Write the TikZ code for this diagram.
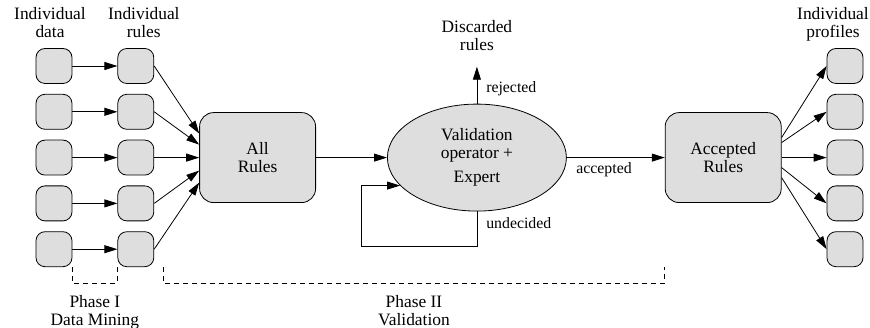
\documentclass[tikz,border=0pt]{standalone}
\usepackage{fontspec}
\setmainfont{Liberation Serif}
\usetikzlibrary{shapes.geometric, arrows.meta, positioning, calc}
\definecolor{boxgray}{RGB}{222,222,222}
\tikzset{
    cell/.style = {rectangle, rounded corners=9pt, draw=black, fill=boxgray, line width=0.8pt, minimum width=36pt, minimum height=35pt, inner sep=0pt},
    bigbox/.style = {cell, rounded corners=14pt, minimum width=116pt, minimum height=90pt, align=center},
    oval/.style = {ellipse, draw=black, fill=boxgray, line width=0.8pt, minimum width=179pt, minimum height=107pt, inner sep=0pt, align=center},
    head/.style = {align=center, inner sep=2pt},
    tag/.style = {font=\fontsize{15.8}{17}\selectfont, inner sep=2pt},
    arrow/.style = {line width=0.8pt, -{Triangle[length=13pt, width=8pt]}},
    bracket/.style = {line width=0.8pt, dash pattern=on 5pt off 4pt}
}

\begin{document}
\begin{tikzpicture}[font=\fontsize{17.4}{18}\selectfont]
        \useasboundingbox (-54pt,66pt) rectangle (816pt,-262pt);

        % Column 1: Individual data
        \node (d1) [cell] {};
        \node (d2) [cell, below=10pt of d1] {};
        \node (d3) [cell, below=10pt of d2] {};
        \node (d4) [cell, below=10pt of d3] {};
        \node (d5) [cell, below=10pt of d4] {};

        % Column 2: Individual rules
        \node (r1) [cell, right=45pt of d1] {};
        \node (r2) [cell, right=45pt of d2] {};
        \node (r3) [cell, right=45pt of d3] {};
        \node (r4) [cell, right=45pt of d4] {};
        \node (r5) [cell, right=45pt of d5] {};

        % Rule base and validation
        \node (all) [bigbox, right=45pt of r3] {All\\Rules};
        \node (valid) [oval, right=71pt of all] {Validation\\operator +\\[6pt]Expert};
        \node (acc) [bigbox, right=98pt of valid] {Accepted\\Rules};

        % Column 3: Individual profiles
        \node (p3) [cell, right=45pt of acc] {};
        \node (p2) [cell, above=10pt of p3] {};
        \node (p1) [cell, above=10pt of p2] {};
        \node (p4) [cell, below=10pt of p3] {};
        \node (p5) [cell, below=10pt of p4] {};

        % Column titles
        \node (hdata) [head, above=8pt of d1, xshift=-4pt] {Individual\\data};
        \node (hrules) [head, above=8pt of r1, xshift=8pt] {Individual\\rules};
        \node (hprof) [head, above=5pt of p1, xshift=-12pt] {Individual\\profiles};

        % Discarded rules
        \coordinate (rejtip) at ([yshift=37pt]valid.north);
        \node (disc) [head, above=14pt of rejtip] {Discarded\\rules};

        % DATA MINING ARROWS
        \draw [arrow] (d1) -- (r1);
        \draw [arrow] (d2) -- (r2);
        \draw [arrow] (d3) -- (r3);
        \draw [arrow] (d4) -- (r4);
        \draw [arrow] (d5) -- (r5);

        \draw [arrow] (r1.east) -- ([yshift=24pt]all.west);
        \draw [arrow] (r2.east) -- ([yshift=13pt]all.west);
        \draw [arrow] (r3.east) -- (all.west);
        \draw [arrow] (r4.east) -- ([yshift=-13pt]all.west);
        \draw [arrow] (r5.east) -- ([yshift=-25pt]all.west);

        % VALIDATION ARROWS
        \draw [arrow] (all) -- (valid);
        \draw [arrow] (valid) -- (acc) node (acclab) [tag, pos=0.38, below, yshift=-3pt] {accepted};
        \draw [arrow] (valid.north) -- (rejtip) node (rejlab) [tag, pos=0.4, right, xshift=7pt] {rejected};
        \draw [arrow] (valid.south) -- ++(0,-35pt) node (undlab) [tag, pos=0.34, right, xshift=7pt] {undecided}
            -| ([xshift=-39pt]valid.200) -- (valid.200);

        % PROFILE ARROWS
        \draw [arrow] ([yshift=20pt]acc.east) -- (p1.west);
        \draw [arrow] ([yshift=15pt]acc.east) -- (p2.west);
        \draw [arrow] (acc.east) -- (p3.west);
        \draw [arrow] ([yshift=-10pt]acc.east) -- (p4.west);
        \draw [arrow] ([yshift=-20pt]acc.east) -- (p5.west);

        % PHASE BRACKETS (Dashed)
        \coordinate (b2l) at ([xshift=9pt]r5.south east);
        \coordinate (b2r) at (acc.west |- r5.south);
        \draw [bracket] (d5.south east) -- ++(0,-16pt) -| (r5.south west);
        \draw [bracket] (b2l) -- ++(0,-16pt) -| (b2r);
        \coordinate (ph1) at ($(d5.south east)!0.5!(r5.south west) + (0,-16pt)$);
        \coordinate (ph2) at ($(b2l)!0.5!(b2r) + (0,-16pt)$);
        \node (phase1) [head, below=10pt of ph1] {Phase I\\Data Mining};
        \node (phase2) [head, below=10pt of ph2] {Phase II\\Validation};
\end{tikzpicture}
\end{document}
